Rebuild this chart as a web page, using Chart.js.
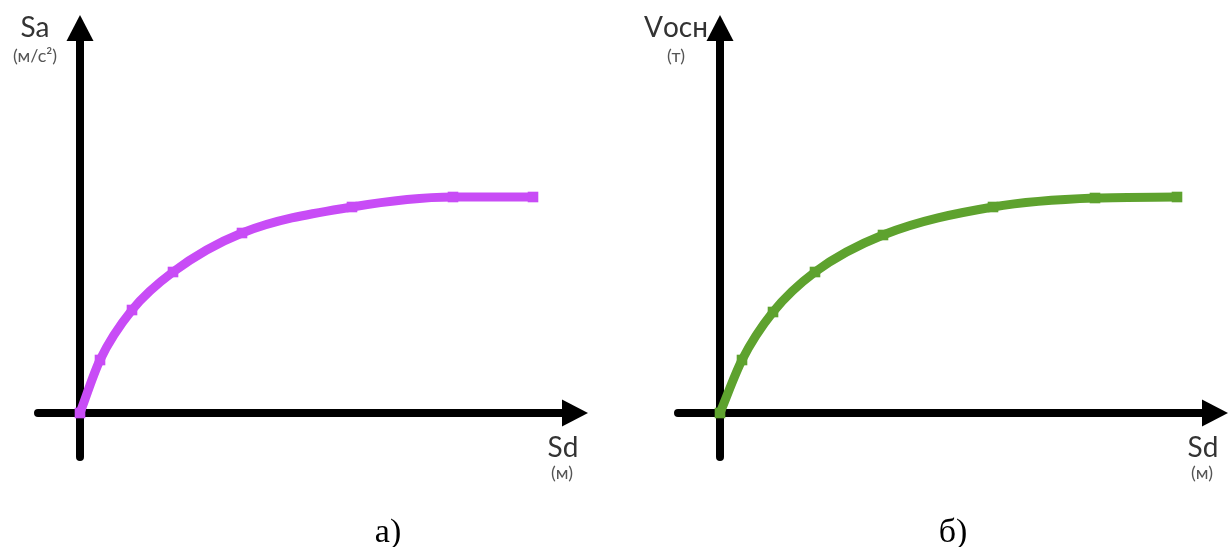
<!DOCTYPE html>
<html>
<head>
<meta charset="utf-8">
<script src="https://cdn.jsdelivr.net/npm/chart.js@4.4.0/dist/chart.umd.min.js"></script>
<style>
  html, body { margin: 0; padding: 0; background: #fff; }
  .row { display: flex; width: 1230px; height: 547px; }
  canvas { display: block; }
</style>
</head>
<body>
<div class="row">
  <canvas id="chart-sa" width="615" height="547"></canvas>
  <canvas id="chart-v" width="615" height="547"></canvas>
</div>
<script>
// а) спектральное ускорение от спектрального перемещения
const sdA = [0, 0.20, 0.52, 0.93, 1.62, 2.72, 3.73, 4.53];
const saA = [0, 0.53, 1.03, 1.41, 1.80, 2.06, 2.16, 2.16];

// б) поперечная сила в основании от спектрального перемещения
const sdB = [0, 0.22, 0.53, 0.95, 1.63, 2.73, 3.75, 4.57];
const vB  = [0, 0.53, 1.01, 1.41, 1.78, 2.06, 2.15, 2.16];

const toPoints = (xs, ys) => xs.map((x, i) => ({ x: x, y: ys[i] }));

// оси со стрелками и подписи рисуем сами
const arrowAxes = {
  id: 'arrowAxes',
  beforeDatasetsDraw(chart, args, opts) {
    const ctx = chart.ctx;
    const xs = chart.scales.x, ys = chart.scales.y;
    const ox = xs.getPixelForValue(0), oy = ys.getPixelForValue(0);
    const x0 = xs.getPixelForValue(opts.xFrom), x1 = xs.getPixelForValue(opts.xTo);
    const y0 = ys.getPixelForValue(opts.yFrom), y1 = ys.getPixelForValue(opts.yTo);
    const head = 26, half = 13.5;

    ctx.save();
    ctx.strokeStyle = '#000';
    ctx.fillStyle = '#000';
    ctx.lineWidth = 8;
    ctx.lineCap = 'round';

    ctx.beginPath();
    ctx.moveTo(x0, oy);
    ctx.lineTo(x1 - head + 2, oy);
    ctx.moveTo(ox, y0);
    ctx.lineTo(ox, y1 + head - 2);
    ctx.stroke();

    ctx.beginPath();
    ctx.moveTo(x1, oy);
    ctx.lineTo(x1 - head, oy - half);
    ctx.lineTo(x1 - head, oy + half);
    ctx.closePath();
    ctx.fill();

    ctx.beginPath();
    ctx.moveTo(ox, y1);
    ctx.lineTo(ox - half, y1 + head);
    ctx.lineTo(ox + half, y1 + head);
    ctx.closePath();
    ctx.fill();

    ctx.textAlign = 'center';
    ctx.textBaseline = 'alphabetic';

    ctx.fillStyle = '#333';
    ctx.font = '28px Lato';
    ctx.fillText(opts.yTitle, ox + opts.yTitleDx, 37);
    ctx.fillText('Sd', x1 - 25, oy + 44);

    ctx.fillStyle = '#555';
    ctx.font = '18px Lato';
    ctx.fillText(opts.yUnit, ox + opts.yTitleDx, 62);
    ctx.fillText('(м)', x1 - 26, oy + 66);

    ctx.fillStyle = '#000';
    ctx.font = '34px "Liberation Serif"';
    ctx.fillText(opts.caption, opts.captionX, 542);
    ctx.restore();
  }
};

function makeChart(id, xs, ys, color, xMin, xMax, extra) {
  const ctx = document.getElementById(id).getContext('2d');
  return new Chart(ctx, {
    type: 'line',
    data: {
      datasets: [{
        data: toPoints(xs, ys),
        borderColor: color,
        backgroundColor: color,
        borderWidth: 9,
        cubicInterpolationMode: 'monotone',
        pointStyle: 'rect',
        pointRadius: 7.5,
        pointBorderWidth: 0,
        fill: false
      }]
    },
    options: {
      responsive: false,
      animation: false,
      layout: { padding: 0, autoPadding: false },
      plugins: {
        legend: { display: false },
        tooltip: { enabled: false },
        arrowAxes: Object.assign({
          xFrom: -0.42, xTo: 5.08,
          yFrom: -0.44, yTo: 3.98
        }, extra)
      },
      scales: {
        x: { type: 'linear', min: xMin, max: xMax, display: false },
        y: { type: 'linear', min: -1.34, max: 4.13, display: false }
      }
    },
    plugins: [arrowAxes]
  });
}

makeChart('chart-sa', sdA, saA, '#c84cf6', -0.80, 5.35, {
  yTitle: 'Sa', yUnit: '(м/с²)', yTitleDx: -45,
  caption: 'а)', captionX: 388
});

makeChart('chart-v', sdB, vB, '#5ea22e', -1.05, 5.10, {
  yTitle: 'Vосн', yUnit: '(т)', yTitleDx: -44,
  caption: 'б)', captionX: 338
});
</script>
</body>
</html>
